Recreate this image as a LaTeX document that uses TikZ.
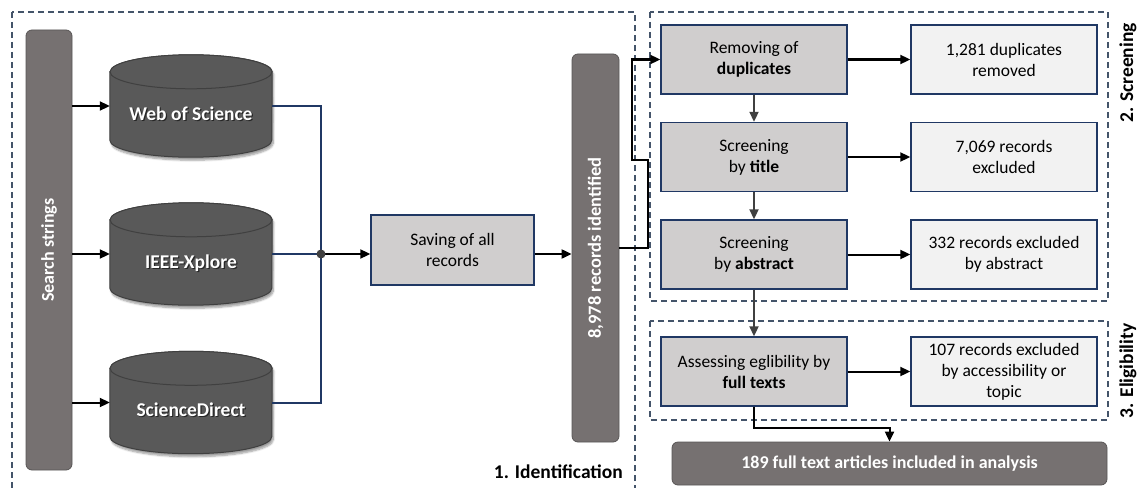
\documentclass[tikz,border=0pt]{standalone}
\usepackage{fontspec}
\setmainfont{Carlito}
\usetikzlibrary{arrows.meta,calc,shadows.blur}
\definecolor{bargray}{HTML}{767171}
\definecolor{cylfill}{HTML}{595959}
\definecolor{cylline}{HTML}{404040}
\definecolor{boxfill}{HTML}{D0CECE}
\definecolor{lightfill}{HTML}{F2F2F2}
\definecolor{navy}{HTML}{203864}
\definecolor{dashcol}{HTML}{44546A}
\definecolor{arrowgray}{HTML}{404040}
\newcommand\shd[1]{\rlap{\kern1.2pt\raisebox{-1.2pt}{\textcolor{black!85}{#1}}}#1}
\newcommand\cyltext[1]{\raisebox{-14pt}[0pt][0pt]{\shd{#1}}}
\tikzset{
  base/.style={font=\fontsize{17.5}{21}\selectfont},
  bar/.style={draw=bargray!75!black, line width=0.8pt, fill=bargray, rounded corners=6pt,
    text=white, font=\fontsize{18.5}{22}\selectfont\bfseries, inner sep=0pt},
  cylnode/.style={minimum width=162pt, minimum height=102pt, inner sep=0pt, text=white,
    font=\fontsize{19.5}{23}\selectfont\bfseries},
  procbox/.style={base, draw=navy, line width=1.4pt, fill=boxfill, minimum width=186pt,
    minimum height=69pt, align=center, inner sep=2pt},
  outbox/.style={procbox, fill=lightfill},
  arr/.style={draw=black, line width=2pt, -{Triangle[length=10pt,width=9pt]}},
  garr/.style={arr, draw=arrowgray},
  navyline/.style={draw=navy, line width=2pt},
  phase/.style={draw=dashcol, line width=1.3pt, dash pattern=on 6pt off 4pt},
  phaselabel/.style={font=\fontsize{19.5}{23}\selectfont\bfseries, inner sep=0pt},
  cylbody/.style={fill=cylfill, draw=cylline, line width=1pt,
    blur shadow={shadow xshift=1.5pt, shadow yshift=-3pt, shadow blur steps=6, shadow opacity=40}},
}
\begin{document}
\begin{tikzpicture}[x=1pt,y=-1pt]
\useasboundingbox (0,0) rectangle (1139,487);

% phase frames
\draw[phase] (12,12) rectangle (635,500);
\draw[phase] (650,12) rectangle (1108,301);
\draw[phase] (650,321) rectangle (1108,420);

% search strings bar
\node[bar, font=\fontsize{18}{22}\selectfont\bfseries, minimum width=46pt, minimum height=440pt] (search) at (49,250) {\rotatebox{90}{Search strings}};

% databases
\node[cylnode] (wos)  at (191,106)   {};
\node[cylnode] (ieee) at (191,254)   {};
\node[cylnode] (sd)   at (191,402.5) {};
\foreach \n in {wos,ieee,sd}{
  \path[cylbody] ($(\n.north west)+(0,17)$) -- ($(\n.south west)+(0,-17)$)
    arc[start angle=180, end angle=360, x radius=81pt, y radius=17pt]
    -- ($(\n.north east)+(0,17)$)
    arc[start angle=0, end angle=180, x radius=81pt, y radius=17pt] -- cycle;
  \draw[fill=cylfill, draw=cylline, line width=1pt] ($(\n.north)+(0,17)$) ellipse[x radius=81pt, y radius=17pt];
}
\node[cylnode] at (wos)  {\cyltext{Web of Science}};
\node[cylnode] at (ieee) {\cyltext{IEEE-Xplore}};
\node[cylnode] at (sd)   {\cyltext{ScienceDirect}};

\draw[arr] (search.east |- wos.west) -- (wos.west);
\draw[arr] (search.east |- ieee.west) -- (ieee.west);
\draw[arr] (search.east |- sd.west) -- (sd.west);

% merging
\coordinate (j) at (321,254);
\draw[navyline] (wos.east) -| (j) |- (sd.east);
\draw[navyline] (ieee.east) -- (j);

\node[procbox, minimum width=163pt, minimum height=70pt] (save) at (452.5,250) {Saving of all\\records};
\node[bar, minimum width=47pt, minimum height=388pt] (rec) at (595.5,248) {\rotatebox{90}{8,978 records identified}};

\draw[arr] (j) -- (j -| save.west);
\fill[arrowgray] (j) circle (4.5pt);
\draw[arr] (save.east |- j) -- (j -| rec.west);

% screening
\node[procbox] (rem)   at (754,59.5)  {Removing of\\\textbf{duplicates}};
\node[procbox] (title) at (754,157)   {Screening\\by \textbf{title}};
\node[procbox] (abs)   at (754,254.5) {Screening\\by \textbf{abstract}};
\node[procbox] (ass)   at (754,371.5) {Assessing eglibility by\\\textbf{full texts}};

\node[outbox] (dup)  at (1004,59.5)  {1,281 duplicates\\removed};
\node[outbox] (exT)  at (1004,157)   {7,069 records\\excluded};
\node[outbox] (exA)  at (1004,254.5) {332 records excluded\\by abstract};
\node[outbox] (exF)  at (1004,371.5) {107 records excluded\\by accessibility or\\topic};

\draw[arr] (rec.east) -| (648,160) -- (632,160) |- (rem.west);

\draw[garr] (rem.south) -- (title.north);
\draw[garr] (title.south) -- (abs.north);
\draw[garr] (abs.south) -- (ass.north);

\draw[arr] (rem.east) -- (dup.west);
\draw[arr] (title.east) -- (exT.west);
\draw[arr] (abs.east) -- (exA.west);
\draw[arr] (ass.east) -- (exF.west);

\node[bar, font=\fontsize{18}{22}\selectfont\bfseries, minimum width=435pt, minimum height=43pt] (final) at (889.5,463.5) {189 full text articles included in analysis};
\draw[arr] (ass.south) -- ++(0,21) -| (final.north);

% phase labels
\node[phaselabel, anchor=east] (lid) at (623,472) {1. Identification};
\node[phaselabel, rotate=90] (lsc) at (1128,73) {2. Screening};
\node[phaselabel, rotate=90] (lel) at (1128,371) {3. Eligibility};
\end{tikzpicture}
\end{document}
